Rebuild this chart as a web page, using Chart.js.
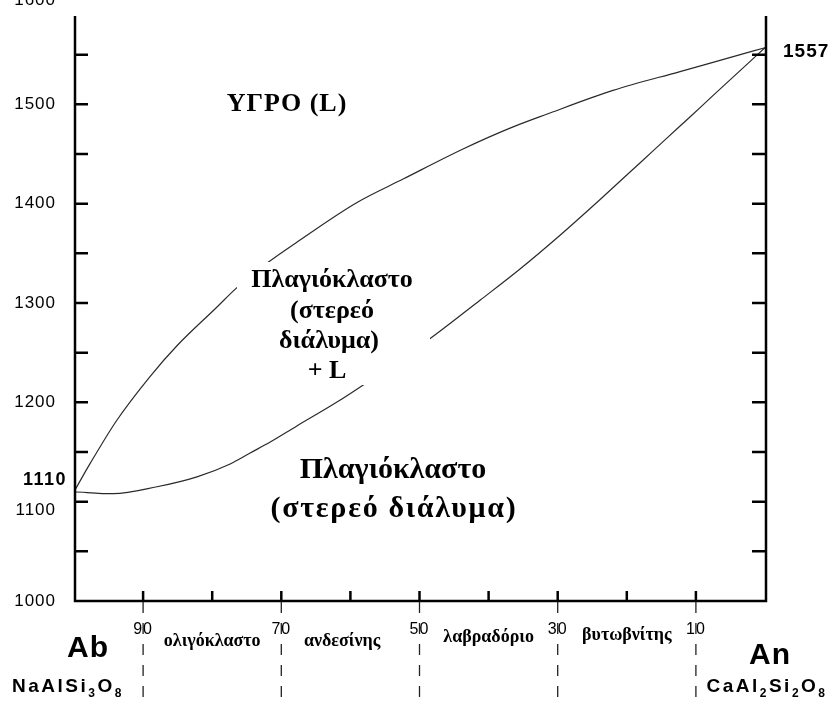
<!DOCTYPE html>
<html>
<head>
<meta charset="utf-8">
<script src="https://cdn.jsdelivr.net/npm/chart.js@4/dist/chart.umd.min.js"></script>
<style>
  html, body { margin: 0; padding: 0; background: #fff; }
  canvas { display: block; }
</style>
</head>
<body>
<canvas id="diagram" width="835" height="702"></canvas>
<script>
// Plagioclase binary (Ab–An): composition in % An, temperature in °C
const liquidusAn = [0, 2.3, 6.2, 11, 14.9, 20.7, 23.5, 27.9, 32.2, 40.9, 47.7, 56.3, 63.1, 68.4, 78, 87.7, 95.4, 100];
const liquidusT  = [1110, 1138, 1182, 1226, 1257, 1296, 1315, 1340, 1361, 1401, 1425, 1455, 1476, 1490, 1514, 1533, 1548, 1557];

const solidusAn = [0, 5.7, 12, 17.8, 22.6, 25.5, 28.4, 32.2, 38, 42.4, 51.5, 58.8, 64.5, 70.3, 76.1, 81.9, 85.8, 89.1, 92.5, 100];
const solidusT  = [1110, 1108, 1115, 1125, 1138, 1149, 1160, 1176, 1200, 1220, 1264, 1303, 1334, 1368, 1404, 1441, 1466, 1487, 1509, 1557];

// Temperature axis
const tempLabels = [1000, 1100, 1200, 1300, 1400, 1500, 1600];
const tempMinorStep = 50;
const tempMin = 1000, tempMax = 1600, tempFrameTop = 1589;

// Composition axis: ticks every 10 % An, labelled with % Ab
const compTicks = [10, 20, 30, 40, 50, 60, 70, 80, 90];
const abLabelAt = [10, 30, 50, 70, 90];
const abLabels  = ['90', '70', '50', '30', '10'];

// Plagioclase series names, placed between the labelled compositions
const seriesNames = ['ολιγόκλαστο', 'ανδεσίνης', 'λαβραδόριο', 'βυτωβνίτης'];
const seriesAt    = [20, 38.8, 60, 80];

// Melting points of the end members
const meltAb = 1110, meltAn = 1557;

const pts = (xs, ys) => xs.map((x, i) => ({ x, y: ys[i] }));

const SANS = '"Liberation Sans", Arial, sans-serif';
const SERIF = '"Liberation Serif", "Times New Roman", serif';

function text(ctx, str, x, y, font, align, spacing) {
  ctx.font = font;
  ctx.textAlign = align || 'center';
  ctx.textBaseline = 'middle';
  ctx.letterSpacing = spacing || '0px';
  ctx.fillText(str, x, y);
  ctx.letterSpacing = '0px';
}

// Chemical formula with subscripts, centred on x, baseline at y
function formula(ctx, parts, x, y, size, spacing) {
  const subSize = Math.round(size * 0.62);
  ctx.textBaseline = 'alphabetic';
  ctx.textAlign = 'left';
  ctx.letterSpacing = spacing + 'px';
  let w = 0;
  for (const [s, sub] of parts) {
    ctx.font = 'bold ' + (sub ? subSize : size) + 'px ' + SANS;
    w += ctx.measureText(s).width;
  }
  let cx = x - w / 2;
  for (const [s, sub] of parts) {
    ctx.font = 'bold ' + (sub ? subSize : size) + 'px ' + SANS;
    ctx.fillText(s, cx, sub ? y + size * 0.24 : y);
    cx += ctx.measureText(s).width;
  }
  ctx.letterSpacing = '0px';
}

const phaseDiagram = {
  id: 'phaseDiagram',
  afterDatasetsDraw(chart) {
    const { ctx, scales: { x, y } } = chart;
    const left = x.getPixelForValue(0) + 1;
    const right = x.getPixelForValue(100) + 1;
    const top = y.getPixelForValue(tempFrameTop);
    const bottom = y.getPixelForValue(tempMin);
    ctx.save();
    ctx.fillStyle = '#000';
    ctx.strokeStyle = '#000';

    // two-phase field label sits on a white panel that interrupts both curves
    ctx.fillStyle = '#fff';
    ctx.fillRect(237, 262, 193, 123);
    ctx.fillStyle = '#000';
    const mid = 332;
    text(ctx, 'Πλαγιόκλαστο', mid, 280, 'bold 26px ' + SERIF);
    text(ctx, '(στερεό', mid, 311, 'bold 26px ' + SERIF);
    text(ctx, 'διάλυμα)', mid - 3, 341, 'bold 26px ' + SERIF);
    text(ctx, '+ L', mid - 5, 371, 'bold 26px ' + SERIF);

    text(ctx, 'ΥΓΡΟ (L)', 287, 104, 'bold 26px ' + SERIF, 'center', '1px');
    text(ctx, 'Πλαγιόκλαστο', 393, 470, 'bold 30px ' + SERIF);
    text(ctx, '(στερεό διάλυμα)', 394, 509, 'bold 30px ' + SERIF, 'center', '1.7px');

    // frame
    ctx.lineWidth = 2.5;
    ctx.lineCap = 'butt';
    ctx.beginPath();
    ctx.moveTo(left, top);
    ctx.lineTo(left, bottom);
    ctx.lineTo(right, bottom);
    ctx.lineTo(right, top);
    ctx.stroke();

    // inward temperature ticks on both sides
    for (let v = tempMin + tempMinorStep; v < tempFrameTop; v += tempMinorStep) {
      const py = y.getPixelForValue(v);
      ctx.beginPath();
      ctx.moveTo(left, py); ctx.lineTo(left + 13, py);
      ctx.moveTo(right, py); ctx.lineTo(right - 14, py);
      ctx.stroke();
    }
    // inward composition ticks
    for (const c of compTicks) {
      const px = x.getPixelForValue(c);
      ctx.beginPath();
      ctx.moveTo(px, bottom); ctx.lineTo(px, bottom - 10);
      ctx.stroke();
    }

    // dashed series boundaries below the axis
    ctx.lineWidth = 1.3;
    ctx.strokeStyle = '#222';
    ctx.setLineDash([11, 10]);
    for (const c of abLabelAt) {
      const px = x.getPixelForValue(c);
      ctx.beginPath();
      ctx.moveTo(px, bottom + 1); ctx.lineTo(px, chart.height);
      ctx.stroke();
    }
    ctx.setLineDash([]);

    // temperature labels
    for (const v of tempLabels) {
      let py = y.getPixelForValue(v);
      if (v === 1100) py += 9;        // leaves room for the Ab melting point
      if (v === tempMax) py -= 5;     // runs off the top edge
      text(ctx, String(v), 56, py, '17px ' + SANS, 'right', '1px');
    }
    text(ctx, String(meltAb), 67, y.getPixelForValue(meltAb) - 12, 'bold 18px ' + SANS, 'right', '1.5px');
    text(ctx, String(meltAn), 783, y.getPixelForValue(meltAn) + 4, 'bold 19px ' + SANS, 'left', '1px');

    // composition labels (% Ab) and series names
    abLabels.forEach((s, i) => {
      text(ctx, s, x.getPixelForValue(abLabelAt[i]), 630, '16px ' + SANS, 'center', '1px');
    });
    const nameY = [641, 641, 637, 635];
    seriesNames.forEach((s, i) => {
      text(ctx, s, x.getPixelForValue(seriesAt[i]), nameY[i], 'bold 18px ' + SERIF);
    });

    // end members
    text(ctx, 'Ab', 88, 649, 'bold 30px ' + SANS, 'center', '1px');
    text(ctx, 'An', 770, 656, 'bold 30px ' + SANS, 'center', '1px');
    formula(ctx, [['NaAlSi', 0], ['3', 1], ['O', 0], ['8', 1]], 68, 692, 19, 2.5);
    formula(ctx, [['CaAl', 0], ['2', 1], ['Si', 0], ['2', 1], ['O', 0], ['8', 1]], 767, 692, 19, 2.5);

    ctx.restore();
  }
};

new Chart(document.getElementById('diagram'), {
  type: 'line',
  data: {
    datasets: [
      { label: 'liquidus', data: pts(liquidusAn, liquidusT) },
      { label: 'solidus', data: pts(solidusAn, solidusT) }
    ]
  },
  options: {
    responsive: false,
    animation: false,
    devicePixelRatio: 1,
    layout: { padding: { left: 74, right: 70, top: 5, bottom: 101 } },
    elements: {
      line: { borderColor: '#2a2a2a', borderWidth: 1.2, cubicInterpolationMode: 'monotone', fill: false },
      point: { radius: 0, hoverRadius: 0 }
    },
    plugins: { legend: { display: false }, tooltip: { enabled: false } },
    scales: {
      x: { type: 'linear', min: 0, max: 100, display: false },
      y: { type: 'linear', min: tempMin, max: tempMax, display: false }
    }
  },
  plugins: [phaseDiagram]
});
</script>
</body>
</html>
